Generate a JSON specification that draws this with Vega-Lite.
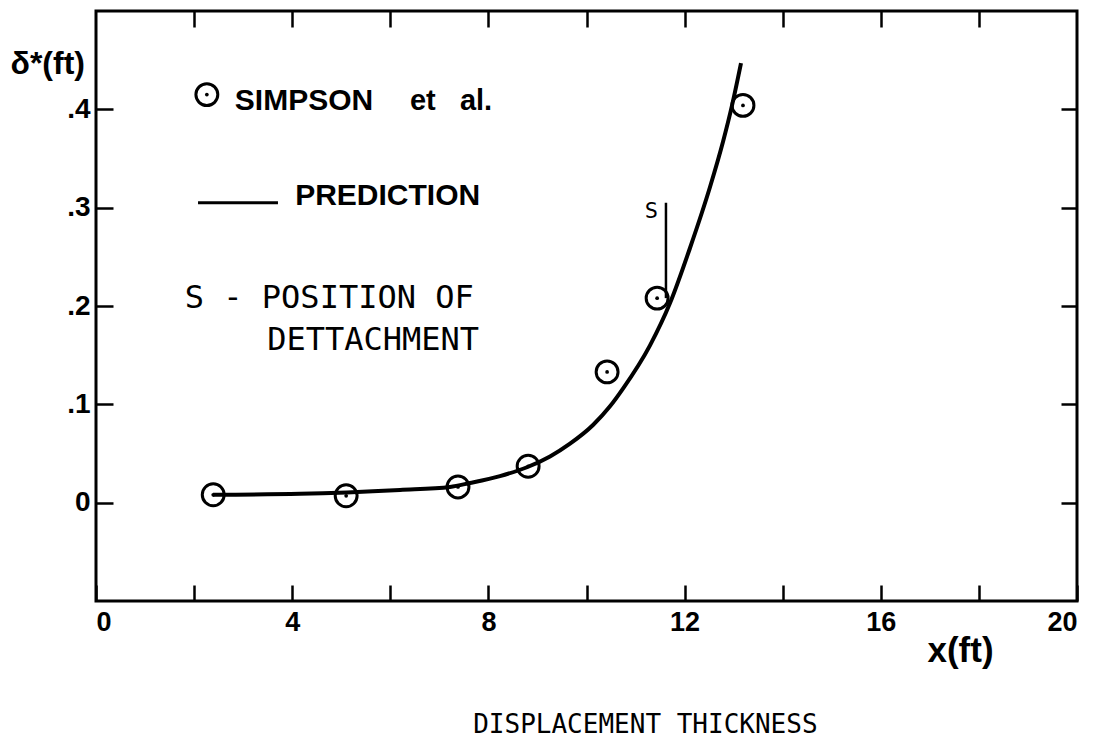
{
  "$schema": "https://vega.github.io/schema/vega-lite/v6.json",
  "width": 981,
  "height": 590,
  "autosize": {"type": "none"},
  "padding": {"left": 96, "top": 11, "right": 18, "bottom": 138},
  "background": "white",
  "config": {
    "view": {"stroke": "black", "strokeWidth": 3},
    "axis": {"grid": false, "domain": false, "tickColor": "black", "tickWidth": 2.5, "labelColor": "black", "titleColor": "black"}
  },
  "datasets": {
    "curve": [
      {"x": 2.385, "d": 0.008}, {"x": 4.159, "d": 0.009}, {"x": 6.198, "d": 0.013},
      {"x": 7.217, "d": 0.016}, {"x": 7.625, "d": 0.02}, {"x": 8.236, "d": 0.027},
      {"x": 8.787, "d": 0.036}, {"x": 9.256, "d": 0.047}, {"x": 9.664, "d": 0.06},
      {"x": 10.133, "d": 0.079}, {"x": 10.479, "d": 0.098}, {"x": 10.744, "d": 0.116},
      {"x": 11.295, "d": 0.16}, {"x": 11.703, "d": 0.203}, {"x": 12.11, "d": 0.259},
      {"x": 12.518, "d": 0.321}, {"x": 12.783, "d": 0.367}, {"x": 12.967, "d": 0.404},
      {"x": 13.15, "d": 0.447}
    ],
    "simpson": [
      {"x": 2.39, "d": 0.008}, {"x": 5.1, "d": 0.007}, {"x": 7.38, "d": 0.016},
      {"x": 8.81, "d": 0.037}, {"x": 10.42, "d": 0.133}, {"x": 11.44, "d": 0.208},
      {"x": 13.19, "d": 0.404}
    ],
    "legendMarker": [{"x": 2.26, "d": 0.415}],
    "legendLine": [{"x": 2.08, "x2": 3.71, "d": 0.305}],
    "sLine": [{"x": 11.62, "d": 0.305, "d2": 0.208}],
    "boldText": [
      {"x": 2.83, "d": 0.399, "t": "SIMPSON"},
      {"x": 4.06, "d": 0.303, "t": "PREDICTION"}
    ],
    "etal": [{"x": 6.4, "d": 0.399, "t": "et\u00a0\u00a0\u00a0al."}],
    "monoText": [
      {"x": 1.81, "d": 0.198, "t": "S - POSITION OF"},
      {"x": 3.49, "d": 0.155, "t": "DETTACHMENT"}
    ],
    "sLabel": [{"x": 11.19, "d": 0.289, "t": "S"}],
    "caption": [{"x": 7.69, "d": -0.234, "t": "DISPLACEMENT THICKNESS"}]
  },
  "resolve": {"axis": {"x": "independent", "y": "independent"}},
  "layer": [
    {
      "data": {"name": "curve"},
      "mark": {"type": "line", "color": "black", "strokeWidth": 4, "interpolate": "monotone"},
      "encoding": {
        "x": {
          "field": "x", "type": "quantitative",
          "scale": {"domain": [0, 20], "nice": false, "zero": false},
          "axis": {
            "orient": "bottom",
            "values": [0, 2, 4, 6, 8, 10, 12, 14, 16, 18, 20],
            "labelExpr": "datum.value % 4 === 0 ? datum.label : ''",
            "tickSize": -16,
            "labelFlush": true,
            "labelPadding": 24,
            "labelBaseline": "top",
            "labelFont": "Liberation Sans",
            "labelFontWeight": "bold",
            "labelFontSize": 27,
            "title": "x(ft)",
            "titleX": 831,
            "titleY": 60,
            "titleAlign": "left",
            "titleBaseline": "alphabetic",
            "titleAnchor": null,
            "titleFont": "Liberation Sans",
            "titleFontWeight": "bold",
            "titleFontSize": 35
          }
        },
        "y": {
          "field": "d", "type": "quantitative",
          "scale": {"domain": [-0.1, 0.5], "nice": false, "zero": false},
          "axis": {
            "orient": "left",
            "values": [0, 0.1, 0.2, 0.3, 0.4],
            "labelExpr": "datum.value == 0 ? '0' : '.' + round(datum.value * 10)",
            "tickSize": -17,
            "labelPadding": 23,
            "labelFont": "Liberation Sans",
            "labelFontWeight": "bold",
            "labelFontSize": 28,
            "title": "δ*(ft)",
            "titleAngle": 0,
            "titleX": -86,
            "titleY": 62,
            "titleAlign": "left",
            "titleBaseline": "alphabetic",
            "titleAnchor": null,
            "titleFont": "Liberation Sans",
            "titleFontWeight": "bold",
            "titleFontSize": 32
          }
        }
      }
    },
    {
      "data": {"name": "simpson"},
      "mark": {"type": "point", "shape": "circle", "filled": false, "stroke": "black", "strokeWidth": 3, "size": 480, "opacity": 1},
      "encoding": {
        "x": {
          "field": "x", "type": "quantitative",
          "axis": {"orient": "top", "values": [2, 4, 6, 8, 10, 12, 14, 16, 18], "labels": false, "tickSize": -16, "title": null}
        },
        "y": {
          "field": "d", "type": "quantitative",
          "axis": {"orient": "right", "values": [0, 0.1, 0.2, 0.3, 0.4], "labels": false, "tickSize": -16, "title": null}
        }
      }
    },
    {
      "data": {"name": "simpson"},
      "mark": {"type": "point", "shape": "circle", "filled": true, "color": "black", "size": 14, "opacity": 1},
      "encoding": {
        "x": {"field": "x", "type": "quantitative", "axis": null},
        "y": {"field": "d", "type": "quantitative", "axis": null}
      }
    },
    {
      "data": {"name": "legendMarker"},
      "mark": {"type": "point", "shape": "circle", "filled": false, "stroke": "black", "strokeWidth": 3, "size": 480, "opacity": 1},
      "encoding": {
        "x": {"field": "x", "type": "quantitative", "axis": null},
        "y": {"field": "d", "type": "quantitative", "axis": null}
      }
    },
    {
      "data": {"name": "legendMarker"},
      "mark": {"type": "point", "shape": "circle", "filled": true, "color": "black", "size": 14, "opacity": 1},
      "encoding": {
        "x": {"field": "x", "type": "quantitative", "axis": null},
        "y": {"field": "d", "type": "quantitative", "axis": null}
      }
    },
    {
      "data": {"name": "legendLine"},
      "mark": {"type": "rule", "color": "black", "strokeWidth": 3},
      "encoding": {
        "x": {"field": "x", "type": "quantitative", "axis": null},
        "x2": {"field": "x2"},
        "y": {"field": "d", "type": "quantitative", "axis": null}
      }
    },
    {
      "data": {"name": "sLine"},
      "mark": {"type": "rule", "color": "black", "strokeWidth": 2.5},
      "encoding": {
        "x": {"field": "x", "type": "quantitative", "axis": null},
        "y": {"field": "d", "type": "quantitative", "axis": null},
        "y2": {"field": "d2"}
      }
    },
    {
      "data": {"name": "boldText"},
      "mark": {"type": "text", "align": "left", "baseline": "alphabetic", "font": "Liberation Sans", "fontWeight": "bold", "fontSize": 30, "color": "black"},
      "encoding": {
        "x": {"field": "x", "type": "quantitative", "axis": null},
        "y": {"field": "d", "type": "quantitative", "axis": null},
        "text": {"field": "t"}
      }
    },
    {
      "data": {"name": "etal"},
      "mark": {"type": "text", "align": "left", "baseline": "alphabetic", "font": "Liberation Sans", "fontWeight": "bold", "fontSize": 29, "color": "black"},
      "encoding": {
        "x": {"field": "x", "type": "quantitative", "axis": null},
        "y": {"field": "d", "type": "quantitative", "axis": null},
        "text": {"field": "t"}
      }
    },
    {
      "data": {"name": "monoText"},
      "mark": {"type": "text", "align": "left", "baseline": "alphabetic", "font": "DejaVu Sans Mono", "fontSize": 32, "color": "black"},
      "encoding": {
        "x": {"field": "x", "type": "quantitative", "axis": null},
        "y": {"field": "d", "type": "quantitative", "axis": null},
        "text": {"field": "t"}
      }
    },
    {
      "data": {"name": "sLabel"},
      "mark": {"type": "text", "align": "left", "baseline": "alphabetic", "font": "DejaVu Sans Mono", "fontSize": 22, "color": "black"},
      "encoding": {
        "x": {"field": "x", "type": "quantitative", "axis": null},
        "y": {"field": "d", "type": "quantitative", "axis": null},
        "text": {"field": "t"}
      }
    },
    {
      "data": {"name": "caption"},
      "mark": {"type": "text", "align": "left", "baseline": "alphabetic", "font": "DejaVu Sans Mono", "fontSize": 26, "color": "black", "clip": false},
      "encoding": {
        "x": {"field": "x", "type": "quantitative", "axis": null},
        "y": {"field": "d", "type": "quantitative", "axis": null},
        "text": {"field": "t"}
      }
    }
  ]
}
